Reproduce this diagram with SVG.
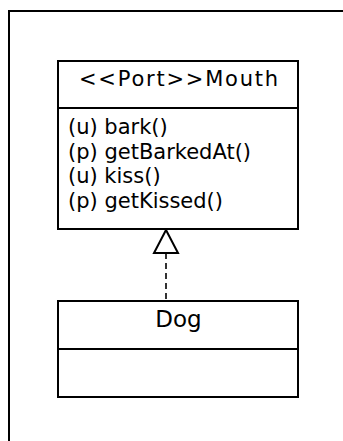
<svg xmlns="http://www.w3.org/2000/svg" width="343" height="441" viewBox="0 0 343 441">
  <style>
    .frame { fill: none; stroke: #000; stroke-width: 2; }
    .box { fill: #fff; stroke: #000; stroke-width: 2; }
    .sep { stroke: #000; stroke-width: 2; }
    .name { font-family: "DejaVu Sans", sans-serif; fill: #000; text-anchor: middle; }
    .op { font-family: "DejaVu Sans", sans-serif; font-size: 21px; fill: #000; }
    .dep { fill: none; stroke: #000; stroke-width: 1.6; stroke-dasharray: 6 4; }
    .head { fill: #fff; stroke: #000; stroke-width: 2; stroke-linejoin: miter; }
  </style>
  <rect width="343" height="441" fill="#fff"/>
  <!-- enclosing package frame, open at the right and bottom -->
  <path class="frame" d="M9,441 V11 H343"/>

  <g id="connectors">
    <line class="dep" x1="166" y1="253" x2="166" y2="301"/>
    <polygon class="head" points="166,230 154,253 178,253"/>
  </g>

  <g id="Mouth">
    <rect class="box" x="58" y="61" width="240" height="168"/>
    <line class="sep" x1="58" y1="108" x2="298" y2="108"/>
    <text class="name" x="178.5" y="86" font-size="21" textLength="199" lengthAdjust="spacing">&lt;&lt;Port&gt;&gt;Mouth</text>
    <text class="op" x="68" y="134">(u) bark()</text>
    <text class="op" x="68" y="158.7">(p) getBarkedAt()</text>
    <text class="op" x="68" y="183.4">(u) kiss()</text>
    <text class="op" x="68" y="208">(p) getKissed()</text>
  </g>

  <g id="Dog">
    <rect class="box" x="58" y="301" width="240" height="96"/>
    <line class="sep" x1="58" y1="349" x2="298" y2="349"/>
    <text class="name" x="178.5" y="327" font-size="23">Dog</text>
  </g>
</svg>
